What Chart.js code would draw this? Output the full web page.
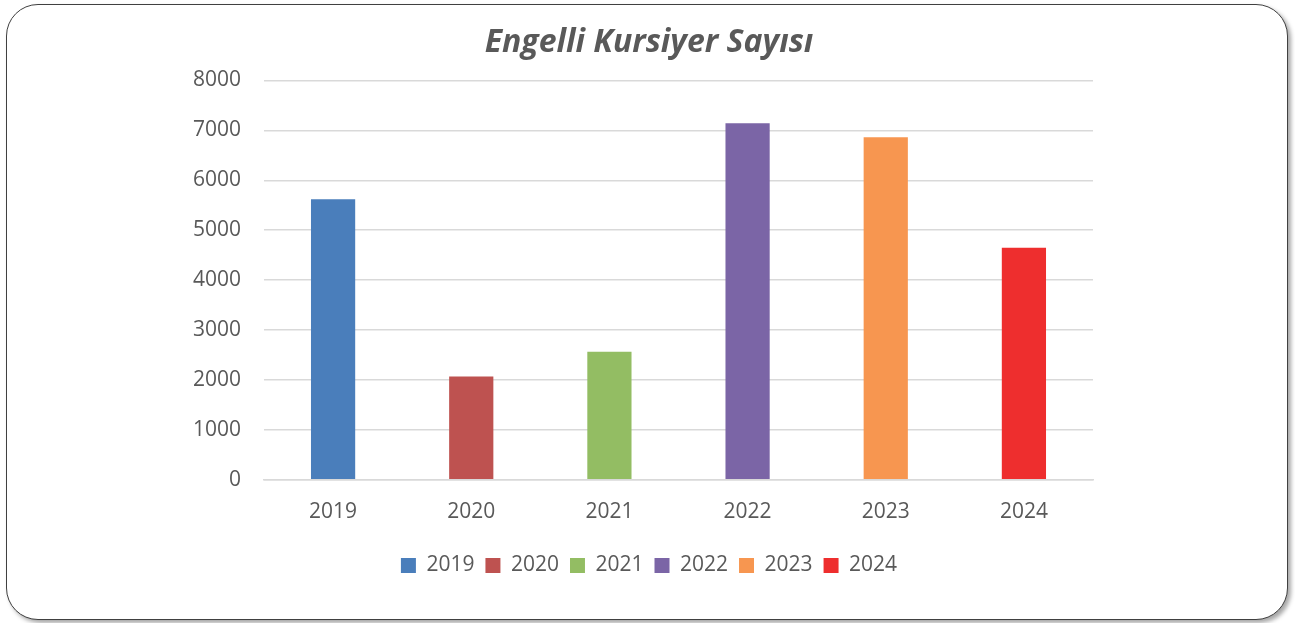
<!DOCTYPE html>
<html>
<head>
<meta charset="utf-8">
<script src="https://cdn.jsdelivr.net/npm/chart.js@4"></script>
<style>
  html, body { margin: 0; padding: 0; background: #fff; }
  body { width: 1295px; height: 623px; position: relative; overflow: hidden; }
  #frame {
    position: absolute; left: 6px; top: 4px; width: 1280px; height: 614px;
    border: 1.5px solid #404040; border-radius: 32px;
    box-shadow: 3px 3px 4px rgba(0,0,0,0.35);
    background: #fff;
  }
  #wrap { position: absolute; left: 0; top: 0; width: 1295px; height: 623px; }
</style>
</head>
<body>
<div id="frame"></div>
<div id="wrap"><canvas id="chart"></canvas></div>
<script>
// data
const years = ['2019', '2020', '2021', '2022', '2023', '2024'];
const counts = [5620, 2070, 2565, 7140, 6860, 4650];
const barColors = ['#4A7EBB', '#BE5250', '#93BD63', '#7B65A6', '#F79650', '#EE2E2E'];

const textColor = '#595959';
const fontFam = '"Open Sans", sans-serif';

const ctx = document.getElementById('chart').getContext('2d');
new Chart(ctx, {
  type: 'bar',
  data: {
    labels: years,
    datasets: [{
      label: 'Engelli Kursiyer Sayısı',
      data: counts,
      backgroundColor: barColors,
      borderWidth: 0,
      categoryPercentage: 1,
      barPercentage: 0.32
    }]
  },
  options: {
    responsive: true,
    maintainAspectRatio: false,
    animation: false,
    // padding is nearly symmetric so title/legend sit in the middle of the page
    layout: { padding: { left: 180, right: 177, top: 14, bottom: 37 } },
    plugins: {
      title: {
        display: true,
        text: 'Engelli Kursiyer Sayısı',
        color: textColor,
        font: { family: fontFam, size: 32, weight: 'bold', style: 'italic' },
        padding: { top: 10, bottom: 18 }
      },
      legend: {
        position: 'bottom',
        labels: {
          color: textColor,
          font: { family: fontFam, size: 21 },
          boxWidth: 15,
          boxHeight: 15,
          padding: 11,
          generateLabels: (chart) => years.map((y, i) => ({
            text: y,
            fillStyle: barColors[i],
            strokeStyle: barColors[i],
            lineWidth: 0,
            fontColor: textColor,
            hidden: false,
            index: i
          }))
        },
        onClick: () => {}
      },
      tooltip: { enabled: false }
    },
    scales: {
      x: {
        grid: { display: false },
        border: { display: true, color: '#d9d9d9', width: 1.5 },
        ticks: { color: textColor, font: { family: fontFam, size: 21 }, padding: 12 },
        afterFit: (scale) => { scale.height += 7; }
      },
      y: {
        min: 0,
        max: 8000,
        afterFit: (scale) => { scale.width = 84; },
        grid: { color: '#d9d9d9', lineWidth: 1.5, drawTicks: false },
        border: { display: false },
        ticks: {
          stepSize: 1000,
          color: textColor,
          font: { family: fontFam, size: 21 },
          padding: 23,
          callback: (v) => String(v)
        }
      },
      // empty spacer on the right
      yRight: {
        position: 'right',
        grid: { display: false },
        border: { display: false },
        ticks: { display: false },
        afterFit: (scale) => { scale.width = 25; }
      }
    }
  }
});
</script>
</body>
</html>
